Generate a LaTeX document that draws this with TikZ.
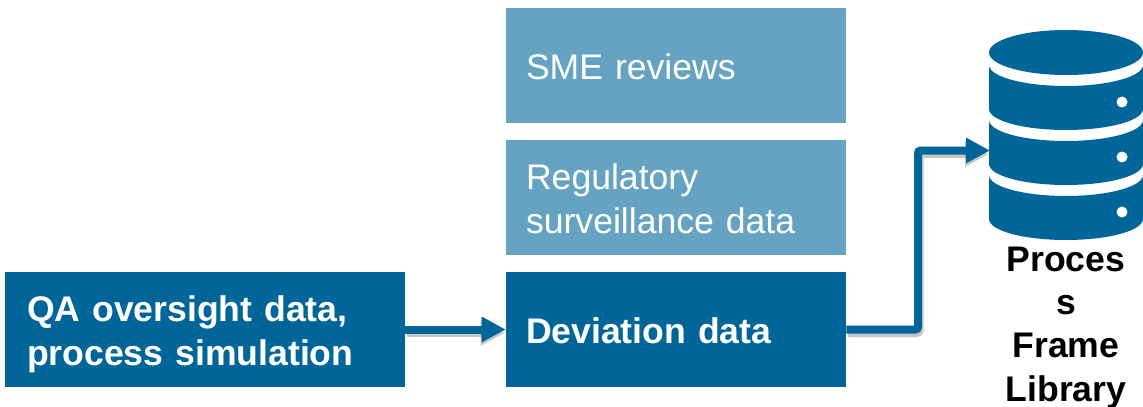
\documentclass[tikz,border=0pt]{standalone}
\usepackage{fontspec}
\setmainfont{Liberation Sans}
\usetikzlibrary{arrows.meta}
\definecolor{darkblue}{HTML}{006699}
\definecolor{lightblue}{HTML}{66A3C2}
\newcommand{\dropline}[1]{\rule{0pt}{\dimexpr 19.5pt+#1\relax}}
\tikzset{
	panel/.style={fill=#1, text=white, minimum width=255pt, minimum height=86.25pt, text width=225pt, align=left, inner sep=0pt, font=\fontsize{26.7}{33}\selectfont},
	flow/.style={draw=darkblue, line width=6pt, rounded corners=2pt, -{Triangle[length=18pt,width=18pt]}},
	flowshadow/.style={draw=black, opacity=0.22, line width=6pt, rounded corners=2pt, shorten >=2pt, -{Triangle[length=18pt,width=18pt]}, transform canvas={shift={(1.5,3.5)}}},
}
\begin{document}
\begin{tikzpicture}[x=0.75pt, y=-0.75pt]
	\useasboundingbox (0,0) rectangle (1143,407);

	% Define coordinates
	\coordinate (store) at (990,150.5);
	\coordinate (bend) at (918,329.5);

	% Draw boxes
	\node[panel=lightblue] (sme) at (676,65.5) {\dropline{1.5pt}SME reviews};
	\node[panel=lightblue] (reg) at (676,197.5) {\dropline{1.5pt}Regulatory\\surveillance data};
	\node[panel=darkblue, font=\fontsize{26.7}{33}\selectfont\bfseries] (dev) at (676,329.5) {\dropline{1.5pt}Deviation data};
	\node[panel=darkblue, minimum width=300pt, text width=267pt, font=\fontsize{26.7}{33}\selectfont\bfseries] (qa) at (205,329.5) {\dropline{7.5pt}QA oversight data,\\process simulation};

	% Draw shadows of arrows
	\draw[flowshadow] (qa.east) -- (dev.west);
	\draw[flowshadow] (dev.east) -- (bend) |- (store);

	% Draw arrows
	\draw[flow] (qa.east) -- (dev.west);
	\draw[flow] (dev.east) -- (bend) |- (store);

	% Draw database
	\fill[darkblue] (1066,52.5) ellipse [x radius=77, y radius=22.5];
	\foreach \y in {65,120,175} {
		\fill[darkblue] (989,\y) .. controls (989,\y+11.6) and (1023.5,\y+21) .. (1066,\y+21)
			.. controls (1108.5,\y+21) and (1143,\y+11.6) .. (1143,\y)
			-- (1143,\y+44) .. controls (1143,\y+55.6) and (1108.5,\y+65) .. (1066,\y+65)
			.. controls (1023.5,\y+65) and (989,\y+55.6) .. (989,\y+44) -- cycle;
		\fill[white] (1122,\y+37) circle (5.5);
	}

	% Label
	\node[align=center, inner sep=0pt, font=\fontsize{26.7}{32.5}\selectfont\bfseries] (lib) at (1066,327.5) {Proces\\s\\Frame\\Library};
\end{tikzpicture}
\end{document}
